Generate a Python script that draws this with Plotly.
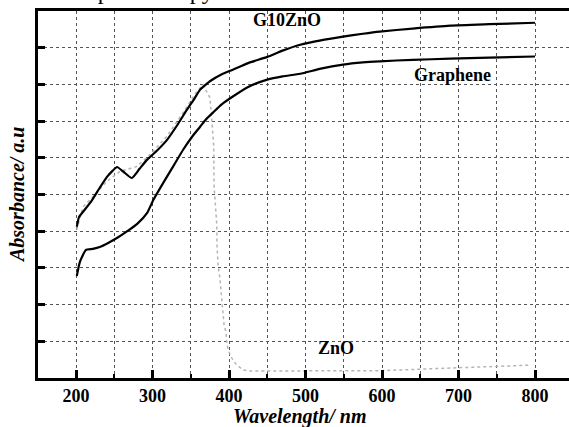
import plotly.graph_objects as go

# ---- data ----
g10_x = [201, 204, 210, 221, 230, 240.5, 248, 253.6, 262, 273, 283, 293, 306, 319, 332, 345, 355, 362, 370, 376,
         390, 405, 425, 450, 470, 493, 520, 549, 575, 597, 640, 689, 740, 800]
g10_y = [4.12, 4.39, 4.55, 4.85, 5.15, 5.48, 5.65, 5.75, 5.62, 5.45, 5.70, 5.95, 6.20, 6.49, 6.88, 7.31, 7.62, 7.85, 8.00, 8.10,
         8.27, 8.40, 8.58, 8.75, 8.92, 9.08, 9.20, 9.30, 9.38, 9.44, 9.52, 9.60, 9.64, 9.68]

gr_x = [201, 205, 213, 222, 231, 242, 254, 267, 280, 293, 301, 315, 328, 340, 352, 362, 370, 379,
        390, 405, 425, 450, 470, 493, 520, 549, 575, 597, 640, 689, 740, 800]
gr_y = [2.78, 3.16, 3.49, 3.52, 3.57, 3.68, 3.82, 4.00, 4.20, 4.50, 4.85, 5.35, 5.80, 6.22, 6.58, 6.84, 7.05, 7.23,
        7.45, 7.67, 7.93, 8.13, 8.22, 8.29, 8.43, 8.54, 8.60, 8.63, 8.67, 8.70, 8.73, 8.76]

zno_x = [201, 209, 225, 240, 257.5, 279, 294, 318.5, 340, 358, 366, 371, 375, 377, 379, 380, 380.4, 381.7, 384,
         384.3, 385.6, 388, 390.5, 392, 393.5, 396, 397.4, 400, 403.5, 409, 418, 427, 500, 600, 700, 750, 795]
zno_y = [4.04, 4.66, 5.00, 5.35, 5.63, 5.76, 6.03, 6.58, 7.23, 7.81, 7.99, 7.81, 7.64, 7.17, 6.72, 6.31, 5.26, 4.91, 4.17,
         3.63, 3.08, 2.73, 2.18, 1.80, 1.45, 1.25, 0.90, 0.71, 0.55, 0.38, 0.22, 0.19, 0.19, 0.20, 0.28, 0.32, 0.35]

x_ticks = [200, 300, 400, 500, 600, 700, 800]
labels = {"g10": "G10ZnO", "gr": "Graphene", "zno": "ZnO"}

FONT = "Liberation Serif"

fig = go.Figure()
fig.add_trace(go.Scatter(x=zno_x, y=zno_y, mode="lines",
                         line=dict(color="#b5b5b5", width=1.5, dash="dot"), name="ZnO"))
fig.add_trace(go.Scatter(x=g10_x, y=g10_y, mode="lines",
                         line=dict(color="black", width=2.2, shape="spline", smoothing=0.5), name="G10ZnO"))
fig.add_trace(go.Scatter(x=gr_x, y=gr_y, mode="lines",
                         line=dict(color="black", width=2.2, shape="spline", smoothing=0.5), name="Graphene"))

fig.update_layout(
    width=569, height=427,
    margin=dict(l=38, r=0, t=11, b=49),
    paper_bgcolor="white", plot_bgcolor="white",
    showlegend=False,
    font=dict(family=FONT, color="black"),
)
fig.update_xaxes(
    range=[150.3, 844.4],
    tickvals=x_ticks, ticktext=[str(v) for v in x_ticks],
    ticks="inside", ticklen=8, tickwidth=2.5, tickcolor="black",
    minor=dict(dtick=50, tick0=150, ticks="inside", ticklen=4, tickwidth=2, tickcolor="black",
               showgrid=True, gridcolor="#555", griddash="dot", gridwidth=1),
    showgrid=True, gridcolor="#555", griddash="dot", gridwidth=1,
    showline=True, linecolor="black", linewidth=2.5, mirror=True,
    tickfont=dict(family=FONT, size=18, color="black", weight="bold"),
    zeroline=False,
)
fig.update_yaxes(
    range=[0, 10], dtick=1, showticklabels=False,
    ticks="inside", ticklen=7, tickwidth=2.5, tickcolor="black",
    showgrid=True, gridcolor="#555", griddash="dot", gridwidth=1,
    showline=True, linecolor="black", linewidth=2.5, mirror=False,
    zeroline=False,
)

bold18 = dict(family=FONT, size=18, color="black", weight="bold")
fig.add_annotation(x=(287 - 38) / 531, y=(378 - 20) / 367, xref="paper", yref="paper", text=labels["g10"],
                   showarrow=False, font=bold18, xanchor="center", yanchor="middle")
fig.add_annotation(x=(452 - 38) / 531, y=(378 - 75) / 367, xref="paper", yref="paper", text=labels["gr"],
                   showarrow=False, font=bold18, xanchor="center", yanchor="middle")
fig.add_annotation(x=(336 - 38) / 531, y=(378 - 348) / 367, xref="paper", yref="paper", text=labels["zno"],
                   showarrow=False, font=bold18, xanchor="center", yanchor="middle")

# axis titles
fig.add_annotation(x=(300 - 38) / 531, y=(378 - 417) / 367, xref="paper", yref="paper",
                   text="Wavelength/ nm", showarrow=False, xanchor="center", yanchor="middle",
                   font=dict(family=FONT, size=20, color="black", weight="bold", style="italic"))
fig.add_annotation(x=(17 - 38) / 531, y=(378 - 195) / 367, xref="paper", yref="paper",
                   text="Absorbance/ a.u", showarrow=False, textangle=-90, xanchor="center", yanchor="middle",
                   font=dict(family=FONT, size=20, color="black", weight="bold", style="italic"))

# cropped caption at the top (only its lower part is visible, as in the reference)
fig.add_annotation(x=(8 - 38) / 531, y=(378 - 6) / 367, xref="paper", yref="paper",
                   text="UV-Vis spectroscopy", showarrow=False, xanchor="left", yanchor="bottom",
                   font=dict(family=FONT, size=24, color="black"))

fig.write_html("out.html")
